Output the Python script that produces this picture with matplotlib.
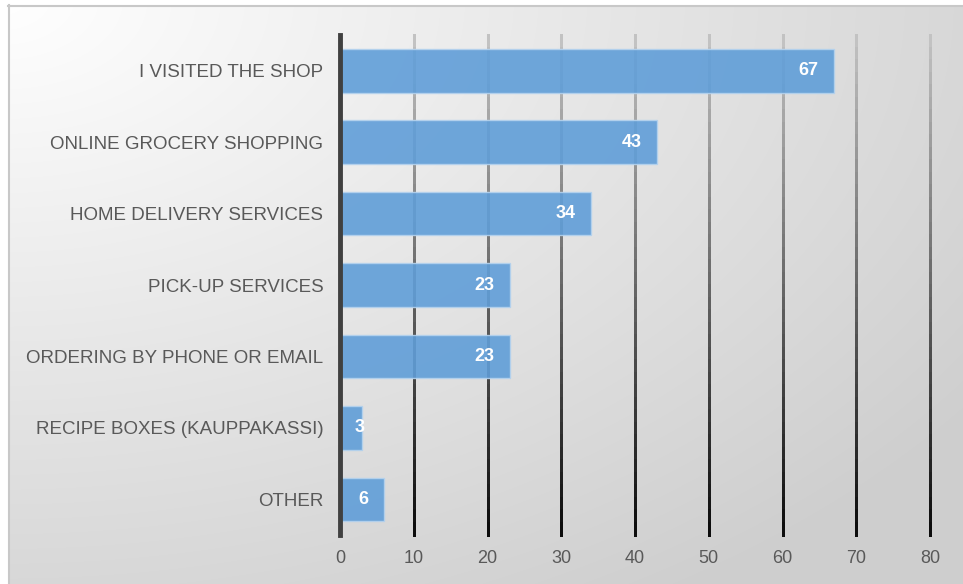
import numpy as np
import matplotlib
matplotlib.use("Agg")
import matplotlib.pyplot as plt
from matplotlib.collections import LineCollection
from matplotlib.patches import Rectangle

plt.rcParams['font.family'] = ['Liberation Sans', 'DejaVu Sans']

categories = ["I VISITED THE SHOP", "ONLINE GROCERY SHOPPING", "HOME DELIVERY SERVICES",
              "PICK-UP SERVICES", "ORDERING BY PHONE OR EMAIL",
              "RECIPE BOXES (KAUPPAKASSI)", "OTHER"]
values = [67, 43, 34, 23, 23, 3, 6]
xticks = [0, 10, 20, 30, 40, 50, 60, 70, 80]

W, H = 963, 584
fig = plt.figure(figsize=(W / 100, H / 100), dpi=100)

# background: white outside the frame, grey gradient inside
bg = fig.add_axes([0, 0, 1, 1])
bg.set_xlim(0, W)
bg.set_ylim(H, 0)
bg.axis("off")
yy, xx = np.mgrid[0:H, 0:W]
d = np.sqrt((xx / W) ** 2 + (yy / H) ** 2) / np.sqrt(2)
shade = 1.0 - 0.19 * np.clip(d * 1.15, 0, 1)
img = np.dstack([shade, shade, shade])
bg.imshow(img, extent=[0, W, H, 0], aspect="auto", zorder=0)
bg.add_patch(Rectangle((0, 0), W, 5, color="white", zorder=1))
bg.add_patch(Rectangle((0, 0), 8, H, color="white", zorder=1))
bg.plot([8, W], [5.5, 5.5], color="#c8c8c8", lw=1.5, zorder=2)
bg.plot([8.5, 8.5], [5, H], color="#c8c8c8", lw=1.5, zorder=2)

ax = fig.add_axes([340 / W, 1 - 535 / H, 590 / W, 500 / H])
ax.patch.set_alpha(0)
y = np.arange(len(categories))
ax.set_xlim(0, 80)
ax.set_ylim(len(categories) - 0.5, -0.5)

# gridlines fading from light grey at the top to black at the bottom
n = 40
ys = np.linspace(-0.5, len(categories) - 0.5, n + 1)
cols = np.linspace(0.76, 0.05, n)
segs, colors = [], []
for t in xticks[1:]:
    for i in range(n):
        segs.append([(t, ys[i]), (t, ys[i + 1])])
        colors.append((cols[i], cols[i], cols[i]))
grid = LineCollection(segs, colors=colors, linewidths=1.8,
                      capstyle="projecting", antialiaseds=False, zorder=1)
grid.set_clip_on(False)
ax.add_collection(grid)

ax.barh(y, values, height=0.61, color="#609ed8", alpha=0.9,
        edgecolor="#b4d2ee", linewidth=1, zorder=2)
ax.axvline(0, color="#404040", lw=3.5, zorder=3, clip_on=False)

for yi, v in zip(y, values):
    ax.text(max(v - 2.1, 3.4), yi, str(v), ha="right", va="center",
            color="white", fontsize=13, fontweight="bold", zorder=4)

ax.set_yticks(y)
ax.set_yticklabels(categories, fontsize=13.5, color="#595959")
ax.set_xticks(xticks)
ax.set_xticklabels([str(t) for t in xticks], fontsize=13, color="#595959")
ax.tick_params(length=0, axis="y", pad=12)
ax.tick_params(length=0, axis="x", pad=11)
for s in ax.spines.values():
    s.set_visible(False)

fig.savefig("out.png", dpi=100)
